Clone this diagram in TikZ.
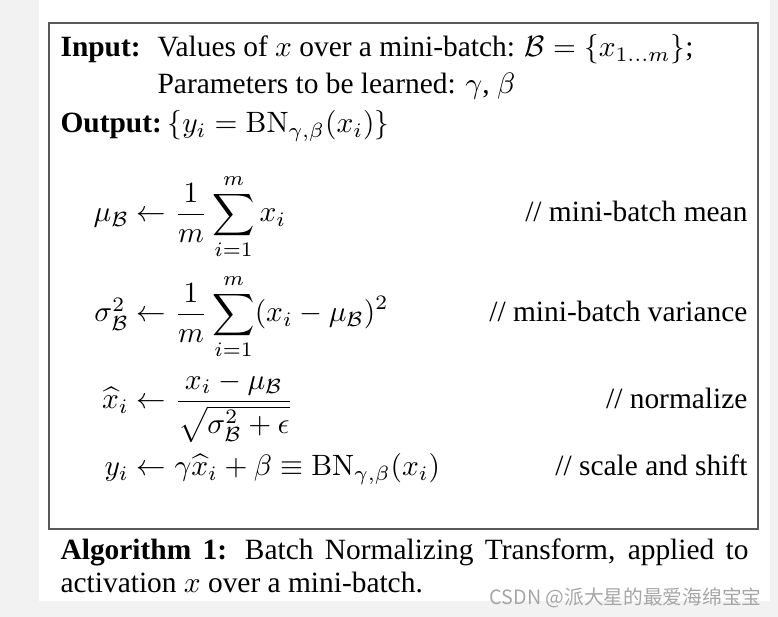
\documentclass[tikz,border=0pt]{standalone}
\usepackage[no-math]{fontspec}
\setmainfont{Liberation Serif}
\newfontfamily\cjk{Noto Sans CJK SC}
\newcommand{\stepeq}[2]{\makebox[14pt][r]{$#1$}$\displaystyle{}\leftarrow#2$}
\tikzset{
  txt/.style={inner sep=0pt, anchor=base west},
  cmt/.style={inner sep=0pt, anchor=base east},
  boxline/.style={draw=black!65, line width=0.7pt}
}
\begin{document}
\begin{tikzpicture}[x=0.34pt,y=-0.34pt,font=\fontsize{10}{12}\selectfont]
        \fill[black!5] (0,0) rectangle (778,617);
        \fill[white] (39,0) rectangle (770,601);
        \draw[boxline] (49,23) rectangle (758,529);
        % header
        \node[txt] (inlab) at (60,57) {\textbf{Input:}};
        \node[txt] (inval) at (157,57) {Values of $x$ over a mini-batch: $\mathcal{B}=\{x_{1\ldots m}\}$;};
        \node[txt] (par) at (157,94) {Parameters to be learned: $\gamma$, $\beta$};
        \node[txt] (outlab) at (60,133) {\textbf{Output:}};
        \node[txt] (outval) at (167,133) {$\{y_i=\mathrm{BN}_{\gamma,\beta}(x_i)\}$};
        % steps
        \node[txt] (mean) at (87,222) {\stepeq{\mu_\mathcal{B}}{\frac{1}{m}\sum_{i=1}^{m}x_i}};
        \node[txt] (var) at (87,322) {\stepeq{\sigma_\mathcal{B}^2}{\frac{1}{m}\sum_{i=1}^{m}(x_i-\mu_\mathcal{B})^2}};
        \node[txt] (norm) at (87,409) {\stepeq{\widehat{x}_i}{\frac{x_i-\mu_\mathcal{B}}{\sqrt{\sigma_\mathcal{B}^2+\epsilon}}}};
        \node[txt] (shift) at (87,476) {\stepeq{y_i}{\gamma\widehat{x}_i+\beta\equiv\mathrm{BN}_{\gamma,\beta}(x_i)}};
        \node[cmt] (c1) at (748,222) {// mini-batch mean};
        \node[cmt] (c2) at (748,322) {// mini-batch variance};
        \node[cmt] (c3) at (748,409) {// normalize};
        \node[cmt] (c4) at (748,476) {// scale and shift};
        % caption
        \node[txt] (cap1) at (60,560) {\makebox[233.9pt][s]{\textbf{Algorithm 1:} Batch Normalizing Transform, applied to}};
        \node[txt] (cap2) at (60,593) {activation $x$ over a mini-batch.};
        \node[cmt, text=black!35] (wm) at (762,605) {\cjk\fontsize{6.7}{8}\selectfont CSDN @派大星的最爱海绵宝宝};
\end{tikzpicture}
\end{document}
